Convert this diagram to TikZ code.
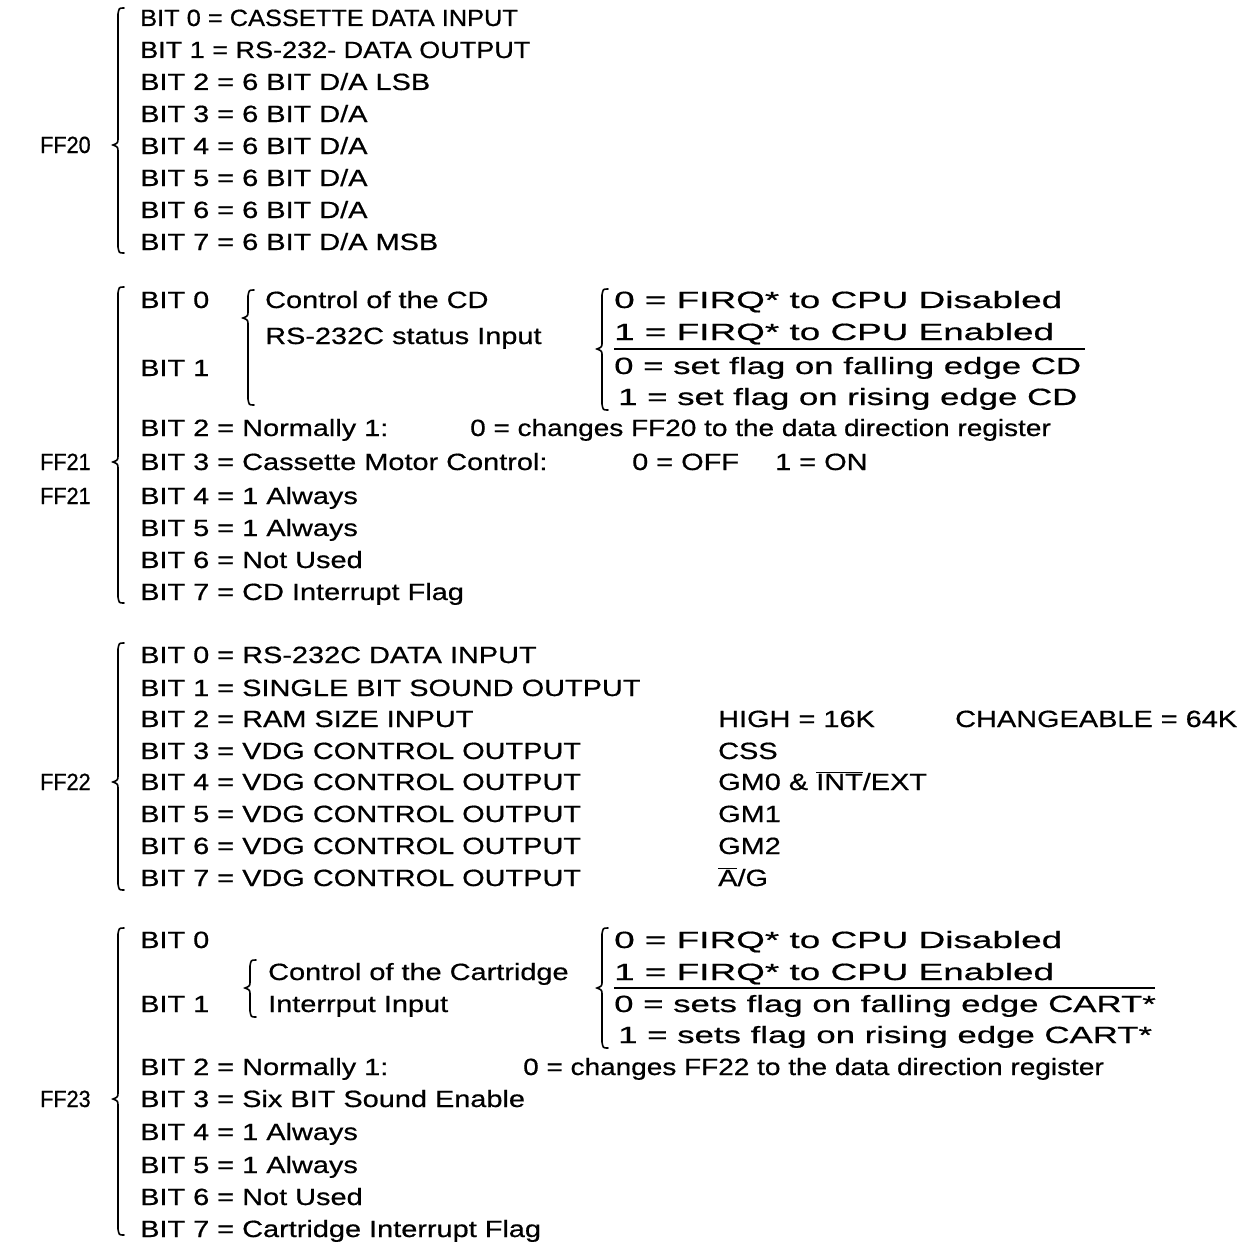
\documentclass[tikz,border=0pt]{standalone}
\usepackage{fontspec}
\setmainfont{Liberation Sans}[FakeStretch=1.23,FakeBold=0.6]
\newfontfamily\widefont{Liberation Sans}[FakeStretch=1.48,FakeBold=0.6]
\newfontfamily\firqfont{Liberation Sans}[FakeStretch=1.57,FakeBold=0.6]
\newfontfamily\narA{Liberation Sans}[FakeStretch=1.08,FakeBold=0.6]
\newfontfamily\narB{Liberation Sans}[FakeStretch=1.15,FakeBold=0.6]
\newfontfamily\narC{Liberation Sans}[FakeStretch=1.19,FakeBold=0.6]
\newfontfamily\labfont{Liberation Sans}[FakeStretch=0.92,FakeBold=0.6]
\begin{document}
\begin{tikzpicture}[x=1pt,y=-1pt,
  txt/.style={anchor=base west,inner sep=0pt,font=\fontsize{23.5}{28}\selectfont},
  wtxt/.style={txt,font=\fontsize{23.5}{28}\widefont},
  ftxt/.style={txt,font=\fontsize{23.5}{28}\firqfont},
  ctxt/.style={txt,font=\fontsize{23.5}{28}\narC},
  lab/.style={txt,font=\fontsize{23.5}{28}\labfont},
  brc/.style={line width=1.6pt,line cap=round},
  rule/.style={line width=1.4pt}]
\useasboundingbox (0,0) rectangle (1246,1244);
\newcommand{\bracel}[4]{% x, top, mid, bottom
  \draw[brc] (#1+6,#2) .. controls (#1+1,#2) .. (#1,#2+6) -- (#1,#3-7)
    .. controls (#1,#3-2) .. (#1-5,#3) .. controls (#1,#3+2) .. (#1,#3+7)
    -- (#1,#4-6) .. controls (#1+1,#4) .. (#1+6,#4);}
% ---------- FF20
\node[lab] (l20) at (40,153) {FF20};
\bracel{118}{8}{145}{253}
\node[txt] (a0) at (140,26) {\narA BIT 0 = CASSETTE DATA INPUT};
\node[txt] (a1) at (140,58) {\narB BIT 1 = RS-232- DATA OUTPUT};
\node[txt] (a2) at (140,90) {BIT 2 = 6 BIT D/A LSB};
\node[txt] (a3) at (140,122) {BIT 3 = 6 BIT D/A};
\node[txt] (a4) at (140,154) {BIT 4 = 6 BIT D/A};
\node[txt] (a5) at (140,186) {BIT 5 = 6 BIT D/A};
\node[txt] (a6) at (140,218) {BIT 6 = 6 BIT D/A};
\node[txt] (a7) at (140,250) {BIT 7 = 6 BIT D/A MSB};
% ---------- FF21
\node[lab] (l21a) at (40,470) {FF21};
\node[lab] (l21b) at (40,504) {FF21};
\bracel{118}{287}{462}{603}
\node[txt] (b0) at (140,308) {BIT 0};
\node[txt] (b1) at (140,376) {BIT 1};
\bracel{248}{290}{318}{405}
\node[txt] (bc1) at (265,308) {Control of the CD};
\node[txt] (bc2) at (265,344) {RS-232C status Input};
\bracel{602}{289}{349}{410}
\node[ftxt] (bf0) at (614,308) {0 = FIRQ* to CPU Disabled};
\node[ftxt] (bf1) at (614,340) {1 = FIRQ* to CPU Enabled};
\coordinate (u1a) at (614,349);
\coordinate (u1b) at (1085,349);
\draw[rule] (u1a) -- (u1b);
\node[wtxt] (bf2) at (614,374) {0 = set flag on falling edge CD};
\node[wtxt] (bf3) at (618,405) {1 = set flag on rising edge CD};
\node[txt] (b2) at (140,436) {BIT 2 = Normally 1:};
\node[ctxt] (b2r) at (470,436) {0 = changes FF20 to the data direction register};
\node[txt] (b3) at (140,470) {BIT 3 = Cassette Motor Control:};
\node[txt] (b3a) at (632,470) {0 = OFF};
\node[txt] (b3b) at (775,470) {1 = ON};
\node[txt] (b4) at (140,504) {BIT 4 = 1 Always};
\node[txt] (b5) at (140,536) {BIT 5 = 1 Always};
\node[txt] (b6) at (140,568) {BIT 6 = Not Used};
\node[txt] (b7) at (140,600) {BIT 7 = CD Interrupt Flag};
% ---------- FF22
\node[lab] (l22) at (40,790) {FF22};
\bracel{118}{643}{782}{890}
\node[txt] (c0) at (140,663) {BIT 0 = RS-232C DATA INPUT};
\node[txt] (c1) at (140,696) {BIT 1 = SINGLE BIT SOUND OUTPUT};
\node[txt] (c2) at (140,727) {BIT 2 = RAM SIZE INPUT};
\node[txt] (c3) at (140,759) {BIT 3 = VDG CONTROL OUTPUT};
\node[txt] (c4) at (140,790) {BIT 4 = VDG CONTROL OUTPUT};
\node[txt] (c5) at (140,822) {BIT 5 = VDG CONTROL OUTPUT};
\node[txt] (c6) at (140,854) {BIT 6 = VDG CONTROL OUTPUT};
\node[txt] (c7) at (140,886) {BIT 7 = VDG CONTROL OUTPUT};
\node[txt] (c2r) at (718,727) {HIGH = 16K};
\node[txt] (c2s) at (955,727) {CHANGEABLE = 64K};
\node[txt] (c3r) at (718,759) {CSS};
\node[txt] (c4r) at (718,790) {GM0 \& $\overline{\hbox{INT}}$/EXT};
\node[txt] (c5r) at (718,822) {GM1};
\node[txt] (c6r) at (718,854) {GM2};
\node[txt] (c7r) at (718,886) {$\overline{\hbox{A}}$/G};
% ---------- FF23
\node[lab] (l23) at (40,1107) {FF23};
\bracel{118}{928}{1099}{1235}
\node[txt] (d0) at (140,948) {BIT 0};
\node[txt] (d1) at (140,1012) {BIT 1};
\bracel{250}{960}{988}{1017}
\node[txt] (dc1) at (268,980) {Control of the Cartridge};
\node[txt] (dc2) at (268,1012) {Interrput Input};
\bracel{602}{928}{988}{1048}
\node[ftxt] (df0) at (614,948) {0 = FIRQ* to CPU Disabled};
\node[ftxt] (df1) at (614,980) {1 = FIRQ* to CPU Enabled};
\coordinate (u2a) at (614,988);
\coordinate (u2b) at (1155,988);
\draw[rule] (u2a) -- (u2b);
\node[wtxt] (df2) at (614,1012) {0 = sets flag on falling edge CART*};
\node[wtxt] (df3) at (618,1043) {1 = sets flag on rising edge CART*};
\node[txt] (d2) at (140,1075) {BIT 2 = Normally 1:};
\node[ctxt] (d2r) at (523,1075) {0 = changes FF22 to the data direction register};
\node[txt] (d3) at (140,1107) {BIT 3 = Six BIT Sound Enable};
\node[txt] (d4) at (140,1140) {BIT 4 = 1 Always};
\node[txt] (d5) at (140,1173) {BIT 5 = 1 Always};
\node[txt] (d6) at (140,1205) {BIT 6 = Not Used};
\node[txt] (d7) at (140,1237) {BIT 7 = Cartridge Interrupt Flag};
\end{tikzpicture}
\end{document}
